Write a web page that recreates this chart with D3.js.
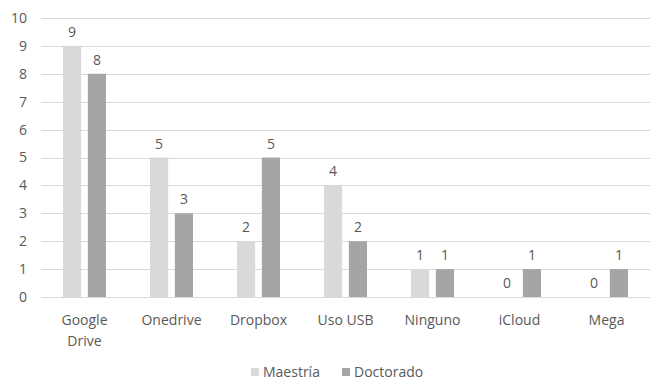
<!DOCTYPE html>
<html>
<head>
<meta charset="utf-8">
<script src="https://cdn.jsdelivr.net/npm/d3@7"></script>
<style>
  body { margin: 0; background: #fff; }
  text { font-family: "Open Sans", "Liberation Sans", sans-serif; fill: #595959; }
</style>
</head>
<body>
<div id="chart"></div>
<script>
// data
const categories = ["Google Drive", "Onedrive", "Dropbox", "Uso USB", "Ninguno", "iCloud", "Mega"];
const maestria = [9, 5, 2, 4, 1, 0, 0];
const doctorado = [8, 3, 5, 2, 1, 1, 1];
const seriesNames = ["Maestría", "Doctorado"];
const yTicks = [0, 1, 2, 3, 4, 5, 6, 7, 8, 9, 10];

const colors = {"Maestría": "#d9d9d9", "Doctorado": "#a5a5a5"};

const W = 655, H = 383;
const margin = {top: 18, right: 5, bottom: 86, left: 41};
const width = W - margin.left - margin.right;
const height = H - margin.top - margin.bottom;
const fs = 14;

const svg = d3.select("#chart").append("svg")
    .attr("width", W)
    .attr("height", H);

const g = svg.append("g")
    .attr("transform", `translate(${margin.left},${margin.top})`);

const x = d3.scaleBand()
    .domain(categories)
    .range([0, width])
    .paddingInner(0)
    .paddingOuter(0);

const xInner = d3.scaleBand()
    .domain(seriesNames)
    .range([22, x.bandwidth() - 22])
    .paddingInner(0.27);

const y = d3.scaleLinear()
    .domain([0, 10])
    .range([height, 0]);

// gridlines
g.selectAll(".grid")
    .data(yTicks)
    .enter().append("line")
    .attr("class", "grid")
    .attr("x1", 0)
    .attr("x2", width)
    .attr("y1", d => Math.round(y(d)) + 0.5)
    .attr("y2", d => Math.round(y(d)) + 0.5)
    .attr("stroke", "#d9d9d9")
    .attr("stroke-width", 1);

// y labels
g.selectAll(".ylab")
    .data(yTicks)
    .enter().append("text")
    .attr("class", "ylab")
    .attr("x", -14)
    .attr("y", d => y(d))
    .attr("dy", "0.35em")
    .attr("text-anchor", "end")
    .attr("font-size", fs)
    .text(d => d);

const rows = categories.map((c, i) => ({cat: c, values: [
    {name: "Maestría", v: maestria[i]},
    {name: "Doctorado", v: doctorado[i]}
]}));

const groups = g.selectAll(".cat")
    .data(rows)
    .enter().append("g")
    .attr("class", "cat")
    .attr("transform", d => `translate(${x(d.cat)},0)`);

groups.selectAll("rect")
    .data(d => d.values)
    .enter().append("rect")
    .attr("x", d => xInner(d.name))
    .attr("width", xInner.bandwidth())
    .attr("y", d => y(d.v))
    .attr("height", d => y(0) - y(d.v))
    .attr("fill", d => colors[d.name]);

groups.selectAll(".val")
    .data(d => d.values)
    .enter().append("text")
    .attr("class", "val")
    .attr("x", d => xInner(d.name) + xInner.bandwidth() / 2)
    .attr("y", d => y(d.v) - 9)
    .attr("text-anchor", "middle")
    .attr("font-size", fs)
    .text(d => d.v);

// category labels, wrapped like the original
groups.append("text")
    .attr("text-anchor", "middle")
    .attr("x", x.bandwidth() / 2)
    .attr("y", height + 28)
    .attr("font-size", fs)
    .each(function(d) {
        const lines = d.cat === "Google Drive" ? ["Google", "Drive"] : [d.cat];
        lines.forEach((l, i) => {
            d3.select(this).append("tspan")
                .attr("x", x.bandwidth() / 2)
                .attr("dy", i === 0 ? 0 : 21)
                .text(l);
        });
    });

// legend
const legend = svg.append("g")
    .attr("transform", `translate(251,377)`);
const legX = [0, 91];
seriesNames.forEach((s, i) => {
    legend.append("rect")
        .attr("x", legX[i])
        .attr("y", -9)
        .attr("width", 8)
        .attr("height", 8)
        .attr("fill", colors[s]);
    legend.append("text")
        .attr("x", legX[i] + 12)
        .attr("y", 0)
        .attr("font-size", fs)
        .text(s);
});
</script>
</body>
</html>
